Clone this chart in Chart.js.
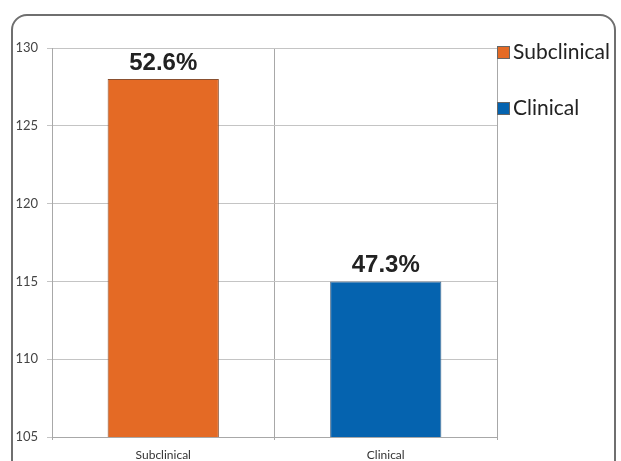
<!DOCTYPE html>
<html>
<head>
<meta charset="utf-8">
<script src="https://cdn.jsdelivr.net/npm/chart.js@4/dist/chart.umd.min.js"></script>
<style>
  html, body { margin: 0; padding: 0; background: #fff; }
  #wrap { position: relative; width: 621px; height: 461px; overflow: hidden; }
  #frame { position: absolute; left: 11px; top: 14px; width: 605px; height: 470px;
           border: 2px solid #6f6f6f; border-radius: 16px; box-sizing: border-box; }
  canvas { position: absolute; left: 0; top: 0; }
</style>
</head>
<body>
<div id="wrap">
  <div id="frame"></div>
  <canvas id="c" width="621" height="461"></canvas>
</div>
<script>
const categories = ["Subclinical", "Clinical"];
const values = [128, 115];
const percentLabels = ["52.6%", "47.3%"];
const barColors = ["#E46A25", "#0563AF"];
const yTicks = [105, 110, 115, 120, 125, 130];

const labelPlugin = {
  id: 'extras',
  afterDatasetsDraw(chart) {
    const ctx = chart.ctx;
    const meta = chart.getDatasetMeta(0);
    ctx.save();
    ctx.font = 'bold 24px "Liberation Sans", Arial, sans-serif';
    ctx.fillStyle = '#222';
    ctx.textAlign = 'center';
    ctx.textBaseline = 'alphabetic';
    meta.data.forEach((bar, i) => {
      ctx.fillText(percentLabels[i], bar.x, bar.y - 9);
    });
    // legend
    const area = chart.chartArea;
    const lx = area.right;
    const rows = [52, 108];
    ctx.font = '21px Lato, "Open Sans", sans-serif';
    ctx.textAlign = 'left';
    ctx.textBaseline = 'middle';
    categories.forEach((name, i) => {
      const cy = rows[i];
      ctx.fillStyle = barColors[i];
      ctx.fillRect(lx, cy - 6, 13, 13);
      ctx.strokeStyle = '#666';
      ctx.lineWidth = 1;
      ctx.strokeRect(lx + 0.5, cy - 5.5, 12, 12);
      ctx.fillStyle = '#222';
      ctx.fillText(name, lx + 16, cy);
    });
    ctx.restore();
  }
};

new Chart(document.getElementById('c'), {
  type: 'bar',
  data: {
    labels: categories,
    datasets: [{
      data: values,
      backgroundColor: barColors,
      borderColor: ['#8a5030', '#4a6a8a'],
      borderWidth: 1,
      barPercentage: 0.5,
      categoryPercentage: 1.0
    }]
  },
  options: {
    responsive: false,
    animation: false,
    devicePixelRatio: 1,
    layout: { padding: { left: 0, right: 124, top: 48, bottom: 0 } },
    plugins: { legend: { display: false }, tooltip: { enabled: false } },
    scales: {
      x: {
        grid: { color: '#a8a8a8', lineWidth: 1, tickLength: 3, offset: true },
        border: { color: '#a8a8a8' },
        ticks: { color: '#333', font: { family: 'Lato, "Open Sans", sans-serif', size: 12 }, padding: 8 },
        afterFit(s) { s.height = 24; }
      },
      y: {
        min: 105, max: 130,
        afterBuildTicks(s) { s.ticks = yTicks.map(v => ({ value: v })); },
        grid: { color: '#c4c4c4', lineWidth: 1, tickLength: 5 },
        border: { color: '#a8a8a8' },
        ticks: { color: '#444', font: { family: 'Lato, "Open Sans", sans-serif', size: 13 }, padding: 9 },
        afterFit(s) { s.width = 52; }
      }
    }
  },
  plugins: [labelPlugin]
});
</script>
</body>
</html>
